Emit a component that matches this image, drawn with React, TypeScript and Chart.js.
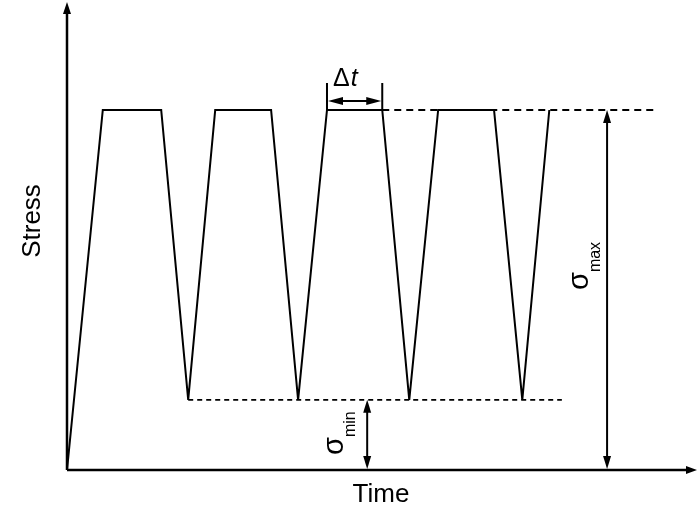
import React, { useEffect, useRef } from "react";
import { Chart, registerables } from "chart.js";

Chart.register(...registerables);

// Waveform (time in arbitrary units 0..100, stress in units where sigma_max = 100)
const timePoints = [0, 5.7, 15.0, 19.3, 23.6, 32.5, 36.8, 41.4, 50.2, 54.5, 59.1, 68.0, 72.5, 76.8];
const stressPoints = [0, 100, 100, 19.5, 100, 100, 19.5, 100, 100, 19.5, 100, 100, 19.5, 100];

const sigmaMax = 100;
const sigmaMin = 19.5;
const maxLineRange = [50.2, 93.6];
const minLineRange = [19.3, 78.8];
const sigmaMaxArrowX = 86.0;
const sigmaMinArrowX = 47.8;
const deltaTRange = [41.4, 50.2];
const deltaTArrowY = 102.5;
const deltaTTickTop = 107.5;

const xRange = [0, 100];
const yRange = [0, 130];

const FONT = '"Liberation Sans", Arial, sans-serif';

function arrowHead(ctx: CanvasRenderingContext2D, tipX: number, tipY: number, dx: number, dy: number, len = 13, half = 4) {
  const bx = tipX - dx * len;
  const by = tipY - dy * len;
  const px = -dy, py = dx;
  ctx.beginPath();
  ctx.moveTo(tipX, tipY);
  ctx.lineTo(bx + px * half, by + py * half);
  ctx.lineTo(bx - px * half, by - py * half);
  ctx.closePath();
  ctx.fill();
}

const annotationPlugin = {
  id: "annotations",
  afterDatasetsDraw(chart: any) {
    const ctx: CanvasRenderingContext2D = chart.ctx;
    const xs = chart.scales.x;
    const ys = chart.scales.y;
    const X = (v: number) => xs.getPixelForValue(v);
    const Y = (v: number) => ys.getPixelForValue(v);
    const area = chart.chartArea;
    ctx.save();
    ctx.strokeStyle = "#000";
    ctx.fillStyle = "#000";
    ctx.setLineDash([]);

    // Axes
    const x0 = X(xRange[0]);
    const y0 = Y(yRange[0]);
    ctx.lineWidth = 2.5;
    ctx.beginPath();
    ctx.moveTo(x0, y0);
    ctx.lineTo(area.right - 6, y0);
    ctx.moveTo(x0, y0);
    ctx.lineTo(x0, area.top + 8);
    ctx.stroke();
    arrowHead(ctx, area.right + 2, y0, 1, 0, 11, 4);
    arrowHead(ctx, x0, area.top, 0, -1, 12, 4);

    // sigma_max dimension
    ctx.lineWidth = 2;
    const sx = X(sigmaMaxArrowX);
    ctx.beginPath();
    ctx.moveTo(sx, Y(sigmaMax) + 8);
    ctx.lineTo(sx, y0 - 8);
    ctx.stroke();
    arrowHead(ctx, sx, Y(sigmaMax), 0, -1);
    arrowHead(ctx, sx, y0 - 1, 0, 1);

    // sigma_min dimension
    const mx = X(sigmaMinArrowX);
    ctx.beginPath();
    ctx.moveTo(mx, Y(sigmaMin) + 8);
    ctx.lineTo(mx, y0 - 8);
    ctx.stroke();
    arrowHead(ctx, mx, Y(sigmaMin), 0, -1);
    arrowHead(ctx, mx, y0 - 1, 0, 1);

    // delta t dimension
    const dx1 = X(deltaTRange[0]);
    const dx2 = X(deltaTRange[1]);
    const dy = Y(deltaTArrowY);
    ctx.lineWidth = 2;
    ctx.beginPath();
    ctx.moveTo(dx1, Y(deltaTTickTop));
    ctx.lineTo(dx1, Y(sigmaMax));
    ctx.moveTo(dx2, Y(deltaTTickTop));
    ctx.lineTo(dx2, Y(sigmaMax));
    ctx.moveTo(dx1 + 8, dy);
    ctx.lineTo(dx2 - 8, dy);
    ctx.stroke();
    arrowHead(ctx, dx1 + 1, dy, -1, 0, 15, 4);
    arrowHead(ctx, dx2 - 1, dy, 1, 0, 15, 4);

    // Labels
    ctx.fillStyle = "#000";
    // Time
    ctx.font = `26px ${FONT}`;
    ctx.textAlign = "center";
    ctx.textBaseline = "middle";
    ctx.fillText("Time", 381, 495);
    // Stress
    ctx.save();
    ctx.translate(33, 221);
    ctx.rotate(-Math.PI / 2);
    ctx.fillText("Stress", 0, 0);
    ctx.restore();

    // Delta t
    ctx.textAlign = "left";
    ctx.textBaseline = "alphabetic";
    ctx.font = `25px ${FONT}`;
    const dText = "\u0394";
    const dLeft = 333;
    ctx.fillText(dText, dLeft, 86);
    const dw = ctx.measureText(dText).width;
    ctx.font = `italic 25px ${FONT}`;
    ctx.fillText("t", dLeft + dw + 1, 86);

    // sigma labels (rotated)
    const drawSigma = (ox: number, oy: number, sub: string) => {
      ctx.save();
      ctx.translate(ox, oy);
      ctx.rotate(-Math.PI / 2);
      ctx.font = `29px ${FONT}`;
      ctx.textAlign = "left";
      ctx.textBaseline = "alphabetic";
      ctx.fillText("\u03c3", 0, 0);
      const w = ctx.measureText("\u03c3").width;
      ctx.font = `16px ${FONT}`;
      ctx.fillText(sub, w, 12);
      ctx.restore();
    };
    drawSigma(588, 290, "max");
    drawSigma(343, 455, "min");

    ctx.restore();
  },
};

export default function App() {
  const canvasRef = useRef<HTMLCanvasElement | null>(null);

  useEffect(() => {
    if (!canvasRef.current) return;
    const wave = timePoints.map((t, i) => ({ x: t, y: stressPoints[i] }));
    const topDash = maxLineRange.map((t) => ({ x: t, y: sigmaMax }));
    const bottomDash = minLineRange.map((t) => ({ x: t, y: sigmaMin }));
    const chart = new Chart(canvasRef.current, {
      type: "line",
      data: {
        datasets: [
          {
            data: wave,
            borderColor: "#000",
            borderWidth: 2,
            pointRadius: 0,
            tension: 0,
            clip: false,
          } as any,
          {
            data: topDash,
            borderColor: "#000",
            borderWidth: 1.8,
            borderDash: [7, 5],
            pointRadius: 0,
            clip: false,
          } as any,
          {
            data: bottomDash,
            borderColor: "#000",
            borderWidth: 1.8,
            borderDash: [5, 4],
            pointRadius: 0,
            clip: false,
          } as any,
        ],
      },
      options: {
        animation: false,
        responsive: true,
        maintainAspectRatio: false,
        layout: { padding: { left: 67, right: 5, top: 2, bottom: 42 } },
        scales: {
          x: { type: "linear", min: xRange[0], max: xRange[1], display: false },
          y: { type: "linear", min: yRange[0], max: yRange[1], display: false },
        },
        plugins: {
          legend: { display: false },
          tooltip: { enabled: false },
        },
        events: [],
      },
      plugins: [annotationPlugin],
    });
    return () => chart.destroy();
  }, []);

  return (
    <div style={{ position: "fixed", left: 0, top: 0, width: 700, height: 512, background: "#fff" }}>
      <canvas ref={canvasRef} />
    </div>
  );
}
